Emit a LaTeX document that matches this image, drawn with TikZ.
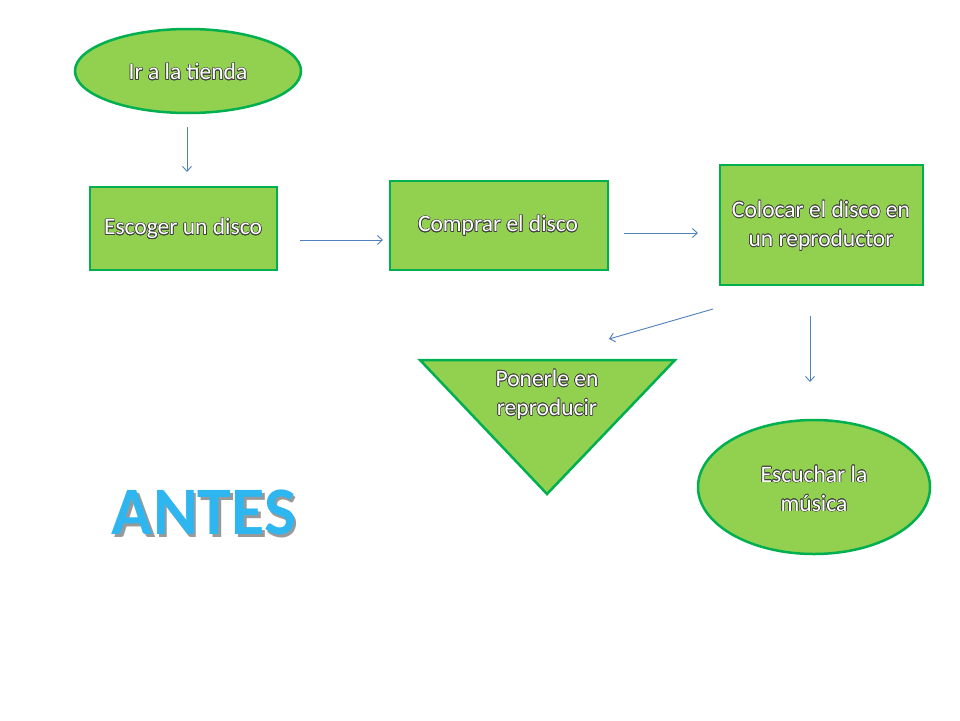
\documentclass[tikz,border=0pt]{standalone}
\usepackage{fontspec}
\setmainfont{Carlito}
\usepackage{contour}
\contourlength{0.6pt}
\usetikzlibrary{shapes.geometric,arrows.meta}
\definecolor{boxfill}{HTML}{92D050}
\definecolor{boxline}{HTML}{00B050}
\definecolor{arr}{HTML}{4F81BD}
\definecolor{antesblue}{HTML}{2DB6F0}
\newcommand\olt[1]{\contour{black!75}{#1}}
\tikzset{
  shapestyle/.style={draw=boxline, fill=boxfill, line width=2.5pt},
  boxstyle/.style={shapestyle, rectangle, inner sep=0pt},
  ovalstyle/.style={shapestyle, ellipse, inner sep=0pt},
  lbl/.style={text=white, align=center, font=\fontsize{23.5}{29}\selectfont},
  conn/.style={draw=arr, line width=0.9pt, -{Straight Barb[length=5pt,width=9pt]}},
}
\begin{document}
\begin{tikzpicture}[x=1pt,y=-1pt]
\useasboundingbox[fill=white] (0,0) rectangle (960,720);

% shapes
\node[ovalstyle, minimum width=226pt, minimum height=84pt] (tienda) at (188,71) {};
\node[boxstyle, minimum width=187pt, minimum height=83pt] (escoger) at (183.5,228.5) {};
\node[boxstyle, minimum width=218pt, minimum height=89pt] (comprar) at (499,225.5) {};
\node[boxstyle, minimum width=203pt, minimum height=120pt] (colocar) at (821.5,225) {};
\coordinate (tl) at (420,360);
\coordinate (tr) at (675,360);
\coordinate (tb) at (547,494);
\draw[shapestyle, line join=miter] (tl) -- (tr) -- (tb) -- cycle;
\node[ovalstyle, minimum width=232pt, minimum height=134pt] (escuchar) at (814,487) {};

% labels
\node[lbl] (t1) at (188,72) {\olt{Ir a la tienda}};
\node[lbl] (t2) at (183,229) {\olt{Escoger un disco}};
\node[lbl] (t3) at (498,226) {\olt{Comprar el disco}};
\node[lbl] (t4) at (821,226) {\olt{Colocar el disco en}\\\olt{un reproductor}};
\node[lbl] (t5) at (547,395) {\olt{Ponerle en}\\\olt{reproducir}};
\node[lbl] (t6) at (814,489) {\olt{Escuchar la}\\\olt{música}};

% connectors
\coordinate (a1s) at (187,127); \coordinate (a1e) at (187,172);
\coordinate (a2s) at (300,240); \coordinate (a2e) at (383,240);
\coordinate (a3s) at (624,233); \coordinate (a3e) at (698,233);
\coordinate (a4s) at (713,309); \coordinate (a4e) at (609,339);
\coordinate (a5s) at (810,316); \coordinate (a5e) at (810,382);
\draw[conn] (a1s) -- (a1e);
\draw[conn] (a2s) -- (a2e);
\draw[conn] (a3s) -- (a3e);
\draw[conn] (a4s) -- (a4e);
\draw[conn] (a5s) -- (a5e);

% title
\node[font=\fontsize{68}{68}\bfseries\selectfont] (antes) at (204,514)
  {\makebox[0pt][l]{\hspace{2.5pt}\raisebox{-3pt}{\color{black!40}ANTES}}\textcolor{antesblue}{ANTES}};
\end{tikzpicture}
\end{document}
